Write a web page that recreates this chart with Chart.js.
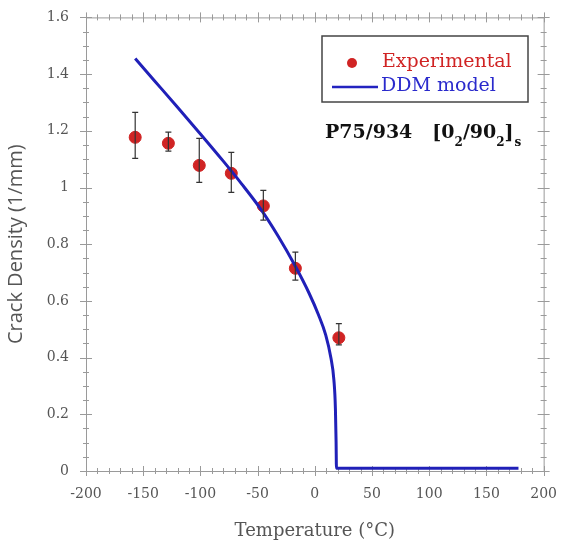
<!DOCTYPE html>
<html>
<head>
<meta charset="utf-8">
<script src="https://cdn.jsdelivr.net/npm/chart.js@4"></script>
<style>
  html, body { margin: 0; padding: 0; background: #fff; }
  #wrap { width: 564px; height: 546px; }
</style>
</head>
<body>
<div id="wrap"><canvas id="crackChart" width="564" height="546"></canvas></div>
<script>
// Experimental points (temperature in C, crack density in 1/mm)
const expTemp = [-157, -128, -101, -73, -45, -17, 21];
const expDensity = [1.177, 1.156, 1.078, 1.05, 0.935, 0.715, 0.47];
const expLow = [1.103, 1.128, 1.018, 0.983, 0.885, 0.673, 0.445];
const expHigh = [1.265, 1.195, 1.173, 1.124, 0.99, 0.772, 0.52];

// DDM model curve
const modelTemp = [-157, -140, -120, -100, -80, -64, -48, -32, -17, -5, 3, 9.5, 14, 16.7, 18, 18.6, 18.9, 178];
const modelDensity = [1.455, 1.376, 1.283, 1.189, 1.093, 1.013, 0.928, 0.828, 0.722, 0.627, 0.553, 0.48, 0.4, 0.32, 0.22, 0.1, 0.01, 0.01];

const xTicks = [-200, -150, -100, -50, 0, 50, 100, 150, 200];
const yTicks = [0, 0.2, 0.4, 0.6, 0.8, 1, 1.2, 1.4, 1.6];

const axisGrey = '#9a9a9a';
const textGrey = '#555555';

// box with ticks on all sides, plus error bars
const errorBars = {
    id: 'errorBars',
    beforeDatasetsDraw(chart) {
        const ctx = chart.ctx;
        const a = chart.chartArea;
        const xs = chart.scales.x, ys = chart.scales.y;
        ctx.save();
        ctx.strokeStyle = axisGrey;
        ctx.lineWidth = 1;
        ctx.strokeRect(a.left + 0.5, a.top + 0.5, a.right - a.left, a.bottom - a.top);
        ctx.beginPath();
        for (let v = -200; v <= 200; v += 10) {
            const px = Math.round(xs.getPixelForValue(v)) + 0.5;
            const len = (v % 50 === 0) ? 5 : 3;
            ctx.moveTo(px, a.bottom - len); ctx.lineTo(px, a.bottom + len);
            ctx.moveTo(px, a.top - len); ctx.lineTo(px, a.top + len);
        }
        for (let k = 0; k <= 32; k++) {
            const v = k * 0.05;
            const py = Math.round(ys.getPixelForValue(v)) + 0.5;
            const len = (k % 4 === 0) ? 6 : 3;
            ctx.moveTo(a.left - len, py); ctx.lineTo(a.left + len, py);
            ctx.moveTo(a.right - len, py); ctx.lineTo(a.right + len, py);
        }
        ctx.stroke();
        ctx.restore();
    },
    afterDatasetsDraw(chart) {
        const ctx = chart.ctx;
        const xs = chart.scales.x, ys = chart.scales.y;
        ctx.save();
        ctx.strokeStyle = '#333';
        ctx.lineWidth = 1.2;
        expTemp.forEach((t, i) => {
            const px = xs.getPixelForValue(t);
            const top = ys.getPixelForValue(expHigh[i]);
            const bot = ys.getPixelForValue(expLow[i]);
            ctx.beginPath();
            ctx.moveTo(px, top); ctx.lineTo(px, bot);
            ctx.moveTo(px - 3, top); ctx.lineTo(px + 3, top);
            ctx.moveTo(px - 3, bot); ctx.lineTo(px + 3, bot);
            ctx.stroke();
        });
        ctx.restore();
    }
};

// legend box and the laminate label
const legendBox = {
    id: 'legendBox',
    afterDraw(chart) {
        const ctx = chart.ctx;
        ctx.save();
        ctx.strokeStyle = '#444';
        ctx.lineWidth = 1.5;
        ctx.strokeRect(322, 36, 206, 66);

        ctx.fillStyle = '#d02424';
        ctx.beginPath();
        ctx.arc(352, 63, 5, 0, Math.PI * 2);
        ctx.fill();
        ctx.font = '19px "DejaVu Serif"';
        ctx.textBaseline = 'middle';
        ctx.fillText('Experimental', 382, 62);

        ctx.strokeStyle = '#2323c0';
        ctx.lineWidth = 2.5;
        ctx.beginPath();
        ctx.moveTo(332, 87); ctx.lineTo(378, 87);
        ctx.stroke();
        ctx.fillStyle = '#2a2acc';
        ctx.fillText('DDM model', 381, 86);

        // P75/934 [0_2/90_2]_s
        ctx.fillStyle = '#111';
        ctx.textBaseline = 'alphabetic';
        let x = 325;
        const y = 138;
        const put = (txt, font, dy) => {
            ctx.font = font;
            ctx.fillText(txt, x, y + dy);
            x += ctx.measureText(txt).width;
        };
        const big = 'bold 19px "DejaVu Serif"';
        const small = 'bold 12px "DejaVu Serif"';
        put('P75/934', big, 0);
        x += 20;
        put('[0', big, 0);
        put('2', small, 8);
        put('/90', big, 0);
        put('2', small, 8);
        put(']', big, 0);
        x += 1;
        put('s', small, 8);
        ctx.restore();
    }
};

const ctx = document.getElementById('crackChart').getContext('2d');
new Chart(ctx, {
    type: 'scatter',
    data: {
        datasets: [{
            label: 'DDM model',
            type: 'line',
            data: modelTemp.map((t, i) => ({ x: t, y: modelDensity[i] })),
            borderColor: '#2020b8',
            borderWidth: 3,
            pointRadius: 0,
            fill: false,
            cubicInterpolationMode: 'monotone'
        }, {
            label: 'Experimental',
            data: expTemp.map((t, i) => ({ x: t, y: expDensity[i] })),
            backgroundColor: '#d02424',
            borderColor: '#d02424',
            pointRadius: 6,
            pointHoverRadius: 6
        }]
    },
    options: {
        responsive: false,
        animation: false,
        layout: { padding: { top: 16, right: 16, left: 0, bottom: 0 } },
        plugins: {
            legend: { display: false },
            tooltip: { enabled: false }
        },
        scales: {
            x: {
                type: 'linear',
                min: -200,
                max: 200,
                afterBuildTicks: s => { s.ticks = xTicks.map(v => ({ value: v })); },
                afterFit: s => { s.height = 75; },
                grid: { display: false },
                border: { display: false },
                ticks: {
                    color: textGrey,
                    font: { family: 'DejaVu Serif', size: 14 },
                    padding: 7,
                    maxRotation: 0
                },
                title: {
                    display: true,
                    text: 'Temperature (°C)',
                    color: textGrey,
                    font: { family: 'DejaVu Serif', size: 18 },
                    padding: { top: 2 }
                }
            },
            y: {
                min: 0,
                max: 1.6,
                afterBuildTicks: s => { s.ticks = yTicks.map(v => ({ value: v })); },
                afterFit: s => { s.width = 86; },
                grid: { display: false },
                border: { display: false },
                ticks: {
                    color: textGrey,
                    font: { family: 'DejaVu Serif', size: 14 },
                    padding: 9,
                    callback: v => String(+v.toFixed(1))
                },
                title: {
                    display: true,
                    text: 'Crack Density (1/mm)',
                    color: textGrey,
                    font: { family: 'Open Sans', size: 20 },
                    padding: { bottom: 0 }
                }
            }
        }
    },
    plugins: [errorBars, legendBox]
});
</script>
</body>
</html>
